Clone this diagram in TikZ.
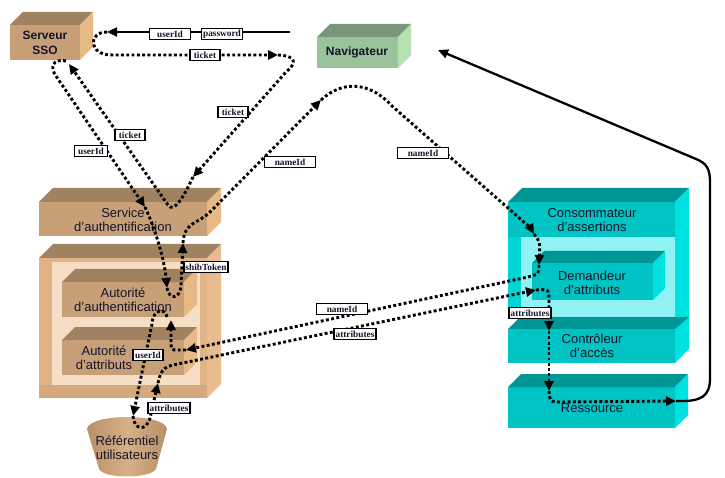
\documentclass[tikz,border=0pt]{standalone}
\usepackage{fontspec}
\setmainfont{Liberation Sans}
\newfontfamily\tagfont{Liberation Serif}
\usetikzlibrary{arrows.meta}

\definecolor{tanF}{HTML}{C8A078}
\definecolor{tanT}{HTML}{A08260}
\definecolor{tanS}{HTML}{E6B987}
\definecolor{grnF}{HTML}{9BC39B}
\definecolor{grnT}{HTML}{7A967A}
\definecolor{grnS}{HTML}{B4E1AF}
\definecolor{cyF}{HTML}{00C3C3}
\definecolor{cyT}{HTML}{009696}
\definecolor{cyS}{HTML}{00E1E1}
\definecolor{cyM}{HTML}{00D4D4}
\definecolor{cyL}{HTML}{90F2F2}
\definecolor{rimF}{HTML}{E1B487}
\definecolor{rimT}{HTML}{A08260}
\definecolor{rimS}{HTML}{E8BC8E}
\definecolor{rimL}{HTML}{F6DEC6}
\definecolor{rimB}{HTML}{D6A97C}
\definecolor{refD}{HTML}{B89068}
\definecolor{refL}{HTML}{D8B088}
\definecolor{ink}{HTML}{14142A}

% 3D box: x1, y1, x2, y2 (front face), depth, colour prefix
\newcommand{\boite}[6]{%
  \fill[#6F] (#1,#2) rectangle (#3,#4);
  \fill[#6T] (#1,#2) -- (#1+#5,#2-#5) -- (#3+#5,#2-#5) -- (#3,#2) -- cycle;
  \fill[#6S] (#3,#2) -- (#3+#5,#2-#5) -- (#3+#5,#4-#5) -- (#3,#4) -- cycle;
}

\begin{document}
\begin{tikzpicture}[x=1pt,y=-1pt,
    msg/.style={line width=2.9pt, dash pattern=on 2.9pt off 2.4pt,
      -{Triangle[length=10pt,width=9pt]}},
    solidmsg/.style={line width=2.3pt, -{Triangle[length=10pt,width=9pt]}},
    tag/.style={draw, line width=1.4pt, fill=white, inner xsep=1.5pt, inner ysep=1pt,
      minimum height=11.5pt, text=ink, font=\tagfont\bfseries\fontsize{9.3}{10}\selectfont},
    lbl/.style={align=center, text=ink, font=\fontsize{13}{14.5}\selectfont},
    lblb/.style={lbl, font=\fontsize{12}{15}\selectfont\bfseries}]
  \useasboundingbox (0,0) rectangle (725,478);

  % boxes
  \boite{10}{25}{80}{60}{13}{tan}
  \boite{317}{37}{398}{68}{13}{grn}
  \boite{39}{202}{207}{236}{14}{tan}

  % left container
  \boite{39}{258}{207}{398}{14}{rim}
  \fill[rimL] (52,262) rectangle (200,385);
  \fill[rimB] (39,385) rectangle (207,398);
  \boite{62}{282}{184}{317}{13}{tan}
  \boite{62}{340}{184}{375}{13}{tan}

  % referentiel
  \shade[left color=refD, right color=refD, middle color=refL]
    (87,429) .. controls (89,413) and (165,413) .. (167,429)
    -- (156,469) .. controls (150,479) and (104,479) .. (99,469) -- cycle;

  % right container
  \fill[cyT] (508,202) -- (522,188) -- (689,188) -- (675,202) -- cycle;
  \fill[cyS] (675,202) -- (689,188) -- (689,349) -- (675,363) -- cycle;
  \fill[cyF] (508,202) rectangle (675,237);
  \fill[cyM] (508,237) rectangle (675,317);
  \fill[cyL] (521,237) rectangle (675,317);
  \boite{532}{263}{653}{300}{12}{cy}
  \fill[cyT] (508,329) -- (520,317) -- (689,317) -- (675,329) -- cycle;
  \fill[cyF] (508,329) rectangle (675,363);
  \boite{508}{387}{675}{428}{13}{cy}

  % texts
  \node[lblb] (sso) at (45,43) {Serveur\\SSO};
  \node[lblb] (nav) at (357,52) {Navigateur};
  \node[lbl] (service) at (123,220) {Service\\d’authentification};
  \node[lbl] (autauth) at (123,300) {Autorité\\d’authentification};
  \node[lbl] (autattr) at (104,358) {Autorité\\d’attributs};
  \node[lbl] (ref) at (127,448) {Référentiel\\utilisateurs};
  \node[lbl] (conso) at (592,220) {Consommateur\\d’assertions};
  \node[lbl] (demandeur) at (592,283) {Demandeur\\d’attributs};
  \node[lbl] (controleur) at (592,346) {Contrôleur\\d’accès};
  \node[lbl] (ressource) at (592,408) {Ressource};

  % ends of the connectors
  \coordinate (pwA) at (290,32);
  \coordinate (pwB) at (107,32);
  \coordinate (tkA) at (278,55);
  \coordinate (tkB) at (193,177);
  \coordinate (tkC) at (69,64);
  \coordinate (uA) at (66,61);
  \coordinate (uB) at (145,207);
  \coordinate (uC) at (167,288);
  \coordinate (sB) at (183,243);
  \coordinate (nA) at (321,100);
  \coordinate (nB) at (534,234);
  \coordinate (dA) at (539,265);
  \coordinate (aA) at (186,350);
  \coordinate (aB) at (171,320);
  \coordinate (rA) at (167,317);
  \coordinate (rB) at (133,416);
  \coordinate (rC) at (158,383);
  \coordinate (dB) at (536,290);
  \coordinate (cA) at (549,331);
  \coordinate (cB) at (549,391);
  \coordinate (rsA) at (676,401);
  \coordinate (navIn) at (438,50);

  % connectors
  \draw[solidmsg] (pwA) -- (pwB);
  \draw[msg] (pwB) .. controls (88,32) and (88,55) .. (112,55) -- (tkA);
  \draw[msg] (tkA) .. controls (298,56) and (296,64) .. (286,72) -- (tkB);
  \draw[msg] (tkB) .. controls (184,196) and (174,214) .. (168,205) -- (tkC);
  \draw[msg] (uA) .. controls (52,58) and (50,68) .. (56,76) -- (uB);
  \draw[msg] (uB) .. controls (158,235) and (165,265) .. (uC);
  \draw[msg] (uC) .. controls (169,300) and (180,300) .. (181,285) -- (sB);
  \draw[msg] (sB) .. controls (184,222) and (198,224) .. (210,212) -- (nA);
  \draw[msg] (nA) .. controls (345,78) and (372,84) .. (392,106) -- (525,223)
    .. controls (530,227) .. (nB);
  \draw[msg] (nB) .. controls (540,242) .. (dA);
  \draw[msg] (dA) .. controls (539,274) .. (528,277) -- (aA);
  \draw[msg] (aA) -- (178,350) .. controls (171,350) .. (171,340) -- (aB);
  \draw[msg] (rA) .. controls (166,308) and (153,308) .. (152,324) -- (rB);
  \draw[msg] (rB) .. controls (134,430) and (146,432) .. (150,418) -- (rC);
  \draw[msg] (rC) .. controls (161,368) and (166,366) .. (178,364) -- (dB);
  \draw[msg] (dB) .. controls (549,289) .. (549,302) -- (cA);
  \draw[msg] (cA) -- (cB);
  \draw[msg] (cB) .. controls (550,402) .. (562,402) -- (rsA);
  \draw[solidmsg] (rsA) .. controls (702,402) and (710,396) .. (710,378) -- (710,182)
    .. controls (710,168) and (706,163) .. (696,159) -- (navIn);

  % labels
  \node[tag, minimum width=41pt] (t1) at (170,34) {userId};
  \node[tag, minimum width=41pt] (t2) at (222,34) {password};
  \node[tag, minimum width=30pt] (t3) at (205,55) {ticket};
  \node[tag, minimum width=30pt] (t4) at (233,112) {ticket};
  \node[tag, minimum width=30pt] (t5) at (130,135) {ticket};
  \node[tag, minimum width=33pt] (t6) at (91,151) {userId};
  \node[tag, minimum width=51pt] (t7) at (290,162) {nameId};
  \node[tag, minimum width=51pt] (t8) at (423,153) {nameId};
  \node[tag] (t9) at (206,267) {shibToken};
  \node[tag, minimum width=51pt] (t10) at (342,309) {nameId};
  \node[tag] (t11) at (355,334) {attributes};
  \node[tag, minimum width=30pt] (t12) at (148,355) {userId};
  \node[tag] (t13) at (169,408) {attributes};
  \node[tag] (t14) at (530,313) {attributes};
\end{tikzpicture}
\end{document}
